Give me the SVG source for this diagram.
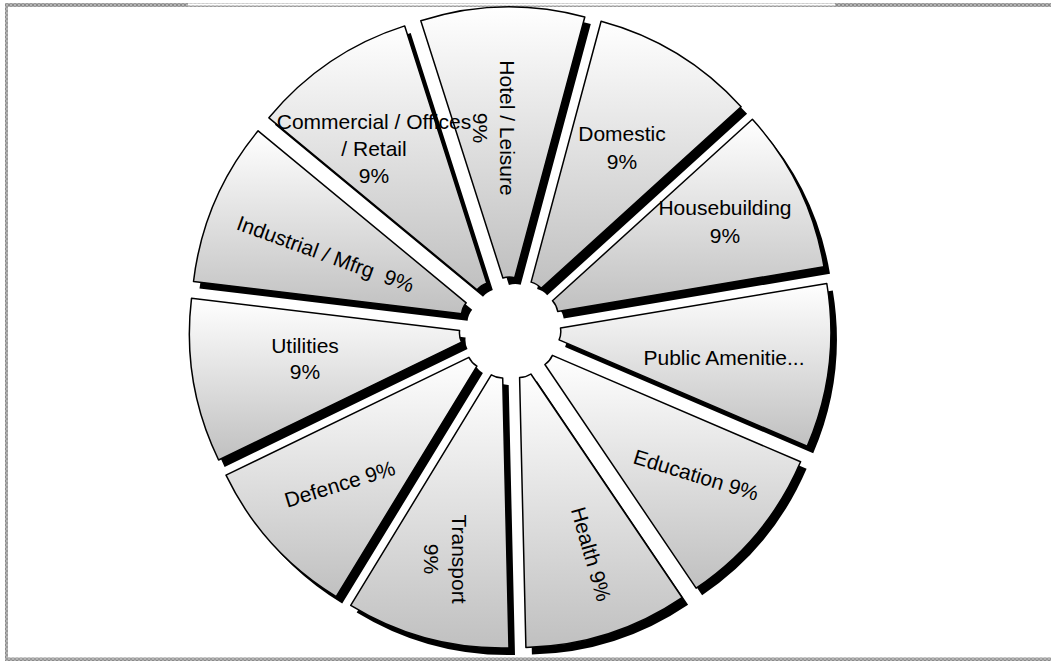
<svg xmlns="http://www.w3.org/2000/svg" xmlns:xlink="http://www.w3.org/1999/xlink" width="1051" height="661" viewBox="0 0 1051 661">
<style>
.slice{fill:url(#grad);stroke:#000;stroke-width:1.5;stroke-linejoin:round}
.shadow{fill:#000}
.lbl{font-family:"Liberation Sans",Arial,sans-serif;font-size:21px;fill:#000;text-anchor:middle}
.frame{fill:url(#dots)}
</style>
<defs>
<linearGradient id="grad" x1="0" y1="0" x2="0" y2="1">
<stop offset="0" stop-color="#ffffff"/>
<stop offset="1" stop-color="#c0c0c0"/>
</linearGradient>
<pattern id="dots" width="4" height="4" patternUnits="userSpaceOnUse">
<rect width="4" height="4" fill="#b4b4b4"/>
<rect width="2" height="2" fill="#8a8a8a"/>
<rect x="2" y="2" width="2" height="2" fill="#9a9a9a"/>
</pattern>
<path id="s0" d="M420.8,20.8 A291,291 0 0 1 584.8,17.0 L514.7,277.7 A21,21 0 0 0 502.9,278.0 Z"/>
<path id="s1" d="M601.1,21.3 A291,291 0 0 1 741.1,106.8 L541.2,288.3 A21,21 0 0 0 531.1,282.1 Z"/>
<path id="s2" d="M752.4,119.3 A291,291 0 0 1 824.0,266.8 L557.7,311.4 A21,21 0 0 0 552.5,300.8 Z"/>
<path id="s3" d="M826.8,283.5 A291,291 0 0 1 807.2,446.3 L559.1,339.9 A21,21 0 0 0 560.5,328.1 Z"/>
<path id="s4" d="M800.6,461.8 A291,291 0 0 1 696.1,588.2 L544.9,364.5 A21,21 0 0 0 552.4,355.4 Z"/>
<path id="s5" d="M682.1,597.7 A291,291 0 0 1 525.9,647.5 L519.6,377.6 A21,21 0 0 0 530.9,374.0 Z"/>
<path id="s6" d="M509.0,647.9 A291,291 0 0 1 350.7,605.4 L491.3,374.9 A21,21 0 0 0 502.7,378.0 Z"/>
<path id="s7" d="M336.2,596.6 A291,291 0 0 1 226.0,475.2 L468.9,357.3 A21,21 0 0 0 476.9,366.1 Z"/>
<path id="s8" d="M218.6,460.0 A291,291 0 0 1 191.5,298.3 L459.6,330.5 A21,21 0 0 0 461.5,342.1 Z"/>
<path id="s9" d="M193.5,281.5 A291,291 0 0 1 258.1,130.8 L466.2,302.8 A21,21 0 0 0 461.6,313.7 Z"/>
<path id="s10" d="M268.9,117.8 A291,291 0 0 1 404.7,25.9 L486.8,283.1 A21,21 0 0 0 477.0,289.8 Z"/>
</defs>
<rect width="1051" height="661" fill="#ffffff"/>
<g id="frame">
<rect class="frame" x="5" y="3" width="1046" height="4"/>
<rect x="188" y="3.5" width="647" height="2" fill="#ffffff"/>
<rect class="frame" x="5" y="3" width="3" height="658"/>
<rect class="frame" x="5" y="657.5" width="1046" height="3.5"/>
</g>
<g id="shadows" class="shadow">
<use xlink:href="#s0" x="6" y="7"/>
<use xlink:href="#s1" x="6" y="7"/>
<use xlink:href="#s2" x="6" y="7"/>
<use xlink:href="#s3" x="6" y="7"/>
<use xlink:href="#s4" x="6" y="7"/>
<use xlink:href="#s5" x="6" y="7"/>
<use xlink:href="#s6" x="6" y="7"/>
<use xlink:href="#s7" x="6" y="7"/>
<use xlink:href="#s8" x="6" y="7"/>
<use xlink:href="#s9" x="6" y="7"/>
<use xlink:href="#s10" x="6" y="7"/>
</g>
<g id="connectors"></g>
<g id="hotel">
<use xlink:href="#s0" class="slice"/>
<text class="lbl" transform="translate(500,128) rotate(90)"><tspan x="0" y="0">Hotel / Leisure</tspan><tspan x="0" y="27">9%</tspan></text>
</g>
<g id="domestic">
<use xlink:href="#s1" class="slice"/>
<text class="lbl"><tspan x="622" y="141">Domestic</tspan><tspan x="622" y="169">9%</tspan></text>
</g>
<g id="housebuilding">
<use xlink:href="#s2" class="slice"/>
<text class="lbl"><tspan x="725" y="215">Housebuilding</tspan><tspan x="725" y="243">9%</tspan></text>
</g>
<g id="public">
<use xlink:href="#s3" class="slice"/>
<text class="lbl" x="724" y="365">Public Amenitie...</text>
</g>
<g id="education">
<use xlink:href="#s4" class="slice"/>
<text class="lbl" transform="translate(694,482) rotate(17)">Education 9%</text>
</g>
<g id="health">
<use xlink:href="#s5" class="slice"/>
<text class="lbl" transform="translate(584,556) rotate(74)">Health 9%</text>
</g>
<g id="transport">
<use xlink:href="#s6" class="slice"/>
<text class="lbl" transform="translate(452,559) rotate(90)"><tspan x="0" y="0">Transport</tspan><tspan x="0" y="28">9%</tspan></text>
</g>
<g id="defence">
<use xlink:href="#s7" class="slice"/>
<text class="lbl" transform="translate(342,491) rotate(-17)">Defence 9%</text>
</g>
<g id="utilities">
<use xlink:href="#s8" class="slice"/>
<text class="lbl"><tspan x="305" y="353">Utilities</tspan><tspan x="305" y="379">9%</tspan></text>
</g>
<g id="industrial">
<use xlink:href="#s9" class="slice"/>
<text class="lbl" transform="translate(323,261) rotate(20)">Industrial / Mfrg&#160; 9%</text>
</g>
<g id="commercial">
<use xlink:href="#s10" class="slice"/>
<text class="lbl"><tspan x="374" y="129">Commercial / Offices</tspan><tspan x="374" y="156">/ Retail</tspan><tspan x="374" y="183">9%</tspan></text>
</g>
</svg>
